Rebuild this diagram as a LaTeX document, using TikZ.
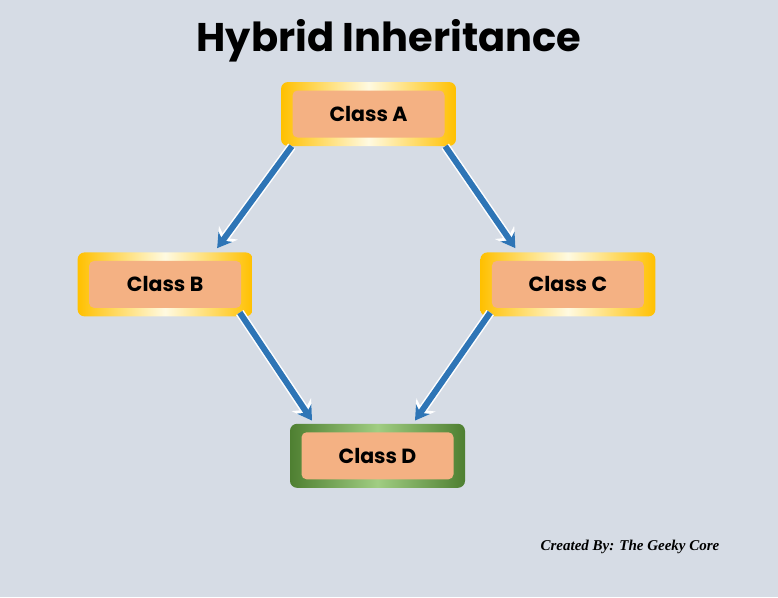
\documentclass[tikz,border=0pt]{standalone}
\usepackage{fontspec}
\setmainfont{Poppins}
\newfontfamily\creditfont{Liberation Serif}
\usetikzlibrary{arrows.meta, positioning}
\definecolor{bgblue}{RGB}{214,220,229}
\definecolor{framegold}{RGB}{255,192,0}
\definecolor{framelight}{RGB}{255,250,225}
\definecolor{framegreen}{RGB}{78,127,49}
\definecolor{greenlight}{RGB}{160,205,130}
\definecolor{boxpeach}{RGB}{244,177,131}
\definecolor{arrowblue}{RGB}{46,117,182}

\begin{document}
\begin{tikzpicture}[
    x=1pt, y=-1pt,
    frame/.style={rectangle, rounded corners=7pt, minimum width=175pt,
                  minimum height=64pt, inner sep=0pt,
                  left color=framegold, right color=framegold, middle color=framelight},
    greenframe/.style={frame, left color=framegreen, right color=framegreen,
                  middle color=greenlight},
    classbox/.style={rectangle, rounded corners=5pt, fill=boxpeach,
                  minimum width=152pt, minimum height=47pt, inner sep=0pt,
                  font=\fontsize{20.5}{20.5}\selectfont\bfseries},
    arr/.style={preaction={draw=white, line width=9pt,
                  -{Stealth[length=19pt,width=23pt]}},
                draw=arrowblue, line width=6pt, -{Stealth[length=14pt,width=17pt]}}
  ]
    \fill[bgblue] (0,0) rectangle (778,597);
    \useasboundingbox (0,0) rectangle (778,597);
    % title
    \node[font=\fontsize{40}{40}\selectfont\bfseries] (title) at (389,41) {Hybrid Inheritance};
    % class frames
    \node[frame] (fA) at (368.5,114) {};
    \node[frame, below left=106pt and 28pt of fA]  (fB) {};
    \node[frame, below right=106pt and 24pt of fA] (fC) {};
    \node[greenframe, below right=107pt and 37pt of fB] (fD) {};
    \node[classbox] (A) at (fA) {Class A};
    \node[classbox] (B) at (fB) {Class B};
    \node[classbox] (C) at (fC) {Class C};
    \node[classbox] (D) at (fD) {Class D};
    % inheritance arrows
    \draw[arr] ([xshift=11pt]fA.south west) -- ([xshift=52pt,yshift=4pt]fB.north);
    \draw[arr] ([xshift=-11pt]fA.south east) -- ([xshift=-52.5pt,yshift=4pt]fC.north);
    \draw[arr] ([xshift=-13pt,yshift=4pt]fB.south east) -- ([xshift=-65.5pt,yshift=3pt]fD.north);
    \draw[arr] ([xshift=10pt,yshift=4pt]fC.south west) -- ([xshift=37.5pt,yshift=3pt]fD.north);
    % credit
    \node[font=\creditfont\fontsize{15}{15}\selectfont\bfseries\itshape] (credit) at (630,547)
      {Created By: The Geeky Core};
\end{tikzpicture}
\end{document}
